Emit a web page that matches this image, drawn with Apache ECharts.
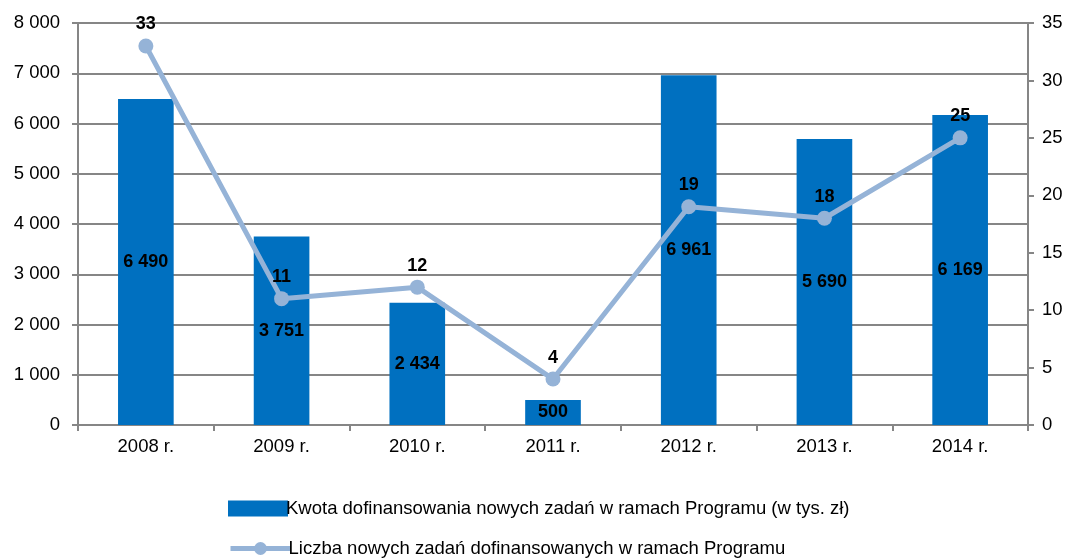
<!DOCTYPE html>
<html>
<head>
<meta charset="utf-8">
<script src="https://cdn.jsdelivr.net/npm/echarts@6/dist/echarts.min.js"></script>
<style>
  html, body { margin: 0; padding: 0; background: #fff; }
  #chart { width: 1073px; height: 560px; }
</style>
</head>
<body>
<div id="chart"></div>
<script>
var lata = ['2008 r.', '2009 r.', '2010 r.', '2011 r.', '2012 r.', '2013 r.', '2014 r.'];
var kwota = [6490, 3751, 2434, 500, 6961, 5690, 6169];
var liczba = [33, 11, 12, 4, 19, 18, 25];
var nazwaKwota = 'Kwota dofinansowania nowych zadań w ramach Programu (w tys. zł)';
var nazwaLiczba = 'Liczba nowych zadań dofinansowanych w ramach Programu';

function fmt(v) {
    return String(v).replace(/\B(?=(\d{3})+(?!\d))/g, ' ');
}

var font = '"Liberation Sans", Arial, sans-serif';
var axisColor = '#868686';
var lineColor = '#95b3d7';

var legendText = { fontSize: 18.5, color: '#000', fontFamily: font, padding: [0, 0, 0, -7] };

var myChart = echarts.init(document.getElementById('chart'));

var option = {
    animation: false,
    textStyle: { fontFamily: font },
    grid: { left: 78, right: 45, top: 23, bottom: 135, containLabel: false },
    legend: [
        {
            left: 228, top: 499, padding: 0,
            itemWidth: 60, itemHeight: 16,
            textStyle: legendText,
            data: [{ name: nazwaKwota, icon: 'rect' }]
        },
        {
            left: 228, top: 539, padding: 0,
            itemWidth: 60, itemHeight: 16,
            textStyle: legendText,
            data: [{
                name: nazwaLiczba,
                lineStyle: { width: 5, color: lineColor },
                itemStyle: { color: lineColor }
            }]
        }
    ],
    xAxis: {
        type: 'category',
        data: lata,
        axisLine: { lineStyle: { color: axisColor, width: 2 } },
        axisTick: { show: true, length: 6, lineStyle: { color: axisColor, width: 2 } },
        axisLabel: { fontSize: 18.5, color: '#000', margin: 12 }
    },
    yAxis: [
        {
            type: 'value',
            min: 0, max: 8000, interval: 1000,
            axisLine: { show: true, lineStyle: { color: axisColor, width: 2 } },
            axisTick: { show: true, length: 6, lineStyle: { color: axisColor, width: 2 } },
            splitLine: { lineStyle: { color: axisColor, width: 2 } },
            axisLabel: { fontSize: 18.5, color: '#000', margin: 18, formatter: fmt }
        },
        {
            type: 'value',
            min: 0, max: 35, interval: 5,
            axisLine: { show: true, lineStyle: { color: axisColor, width: 2 } },
            axisTick: { show: true, length: 6, lineStyle: { color: axisColor, width: 2 } },
            splitLine: { show: false },
            axisLabel: { fontSize: 18.5, color: '#000', margin: 14 }
        }
    ],
    series: [
        {
            name: nazwaKwota,
            type: 'bar',
            data: kwota,
            barWidth: '41%',
            itemStyle: { color: '#0070c0' },
            label: {
                show: true,
                position: 'inside',
                color: '#000',
                fontWeight: 'bold',
                fontSize: 18,
                formatter: function (p) { return fmt(p.value); }
            }
        },
        {
            name: nazwaLiczba,
            type: 'line',
            yAxisIndex: 1,
            data: liczba,
            symbol: 'circle',
            symbolSize: 15,
            lineStyle: { color: lineColor, width: 5 },
            itemStyle: { color: lineColor },
            label: {
                show: true,
                position: 'top',
                distance: 5,
                color: '#000',
                fontWeight: 'bold',
                fontSize: 18
            }
        }
    ]
};

myChart.setOption(option);
</script>
</body>
</html>
